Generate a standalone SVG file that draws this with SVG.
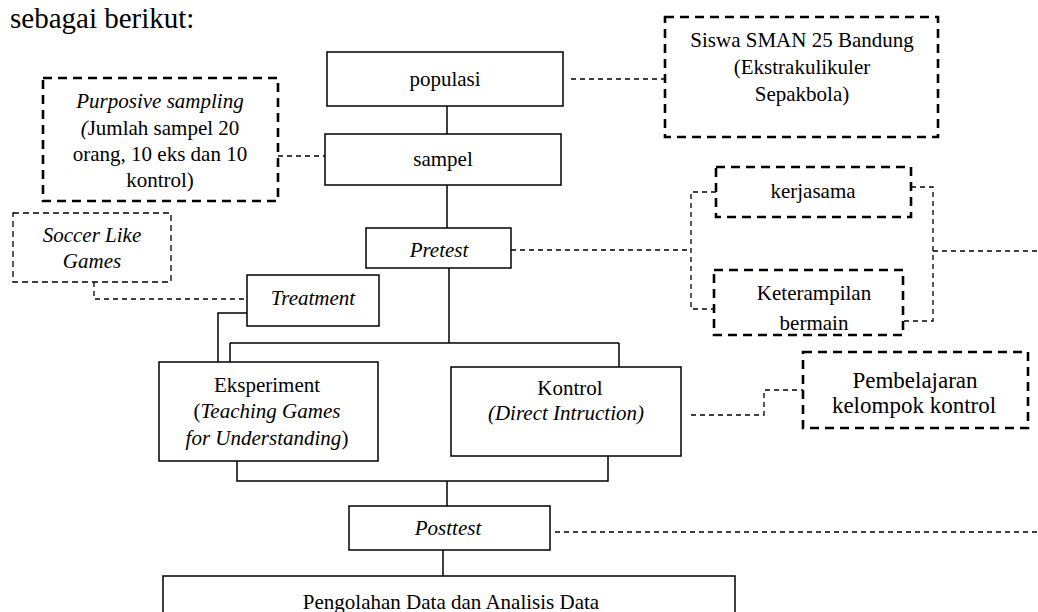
<svg xmlns="http://www.w3.org/2000/svg" width="1038" height="612" viewBox="0 0 1038 612" font-family="'Liberation Serif', 'Times New Roman', serif" font-size="21">
<style>
.box{fill:#fff;stroke:#000;stroke-width:1.5}
.dbox{fill:none;stroke:#000;stroke-width:2.6;stroke-dasharray:9 6}
.tbox{fill:none;stroke:#000;stroke-width:1.3;stroke-dasharray:6 4}
.conn{fill:none;stroke:#000;stroke-width:1.5}
.dconn{fill:none;stroke:#000;stroke-width:1.3;stroke-dasharray:5 4}
.c{text-anchor:middle}
.i{font-style:italic}
.s23{font-size:23px}
</style>
<rect x="0" y="0" width="1038" height="612" fill="#fff"/>
<text x="10" y="28" font-size="29">sebagai berikut:</text>

<g id="connectors">
<path class="conn" d="M447 106V134"/>
<path class="conn" d="M447 185V228"/>
<path class="conn" d="M449 268V343M230 343H619M230 343V362M619 343V367"/>
<path class="conn" d="M247 313H218V362"/>
<path class="conn" d="M237 461V481H608V456M447 481V506"/>
<path class="conn" d="M443 550V576"/>
<path class="dconn" d="M571 79H665"/>
<path class="dconn" d="M278 156H325"/>
<path class="dconn" d="M511 250H691"/>
<path class="dconn" d="M716 192H691V309H714"/>
<path class="dconn" d="M911 187H933V321H903"/>
<path class="dconn" d="M933 251H1038"/>
<path class="dconn" d="M94 282V299H247"/>
<path class="dconn" d="M691 415H764V390H803"/>
<path class="dconn" d="M555 532H1038"/>
</g>

<g id="populasi"><rect class="box" x="327" y="52" width="236" height="54"/><text class="c" x="445" y="86">populasi</text></g>
<g id="sampel"><rect class="box" x="325" y="134" width="236" height="51"/><text class="c" x="443" y="166">sampel</text></g>
<g id="siswa"><rect class="dbox" x="665" y="17" width="273" height="120"/>
<text class="c" x="802" y="47">Siswa SMAN 25 Bandung</text>
<text class="c" x="802" y="74">(Ekstrakulikuler</text>
<text class="c" x="802" y="101">Sepakbola)</text></g>
<g id="purposive"><rect class="dbox" x="43" y="78" width="235" height="123"/>
<text class="c" x="160" y="108"><tspan class="i">Purposive sampling</tspan></text>
<text class="c" x="160" y="135"><tspan class="i">(</tspan>Jumlah sampel 20</text>
<text class="c" x="160" y="161">orang, 10 eks dan 10</text>
<text class="c" x="160" y="187">kontrol)</text></g>
<g id="pretest"><rect class="box" x="366" y="228" width="145" height="40"/><text class="c i" x="439" y="257">Pretest</text></g>
<g id="kerjasama"><rect class="dbox" x="716" y="167" width="195" height="50"/><text class="c" x="813" y="198">kerjasama</text></g>
<g id="keterampilan"><text class="c" x="814" y="300">Keterampilan</text><text class="c" x="814" y="330">bermain</text><rect class="dbox" x="714" y="270" width="189" height="65"/></g>
<g id="soccer"><rect class="tbox" x="13" y="213" width="158" height="69"/>
<text class="c i" x="92" y="242">Soccer Like</text><text class="c i" x="92" y="268">Games</text></g>
<g id="treatment"><rect class="box" x="247" y="275" width="132" height="51"/><text class="c i" x="313" y="305">Treatment</text></g>
<g id="eksperiment"><rect class="box" x="159" y="362" width="219" height="99"/>
<text class="c" x="267" y="392">Eksperiment</text>
<text class="c" x="267" y="418">(<tspan class="i">Teaching Games</tspan></text>
<text class="c" x="267" y="445"><tspan class="i">for Understanding</tspan>)</text></g>
<g id="kontrol"><rect class="box" x="451" y="367" width="230" height="89"/>
<text class="c" x="570" y="395">Kontrol</text>
<text class="c i" x="566" y="420">(Direct Intruction)</text></g>
<g id="pembelajaran"><rect class="dbox" x="803" y="352" width="225" height="76"/>
<text class="c s23" x="915" y="388">Pembelajaran</text>
<text class="c s23" x="914" y="413">kelompok kontrol</text></g>
<g id="posttest"><rect class="box" x="349" y="506" width="201" height="44"/><text class="c i" x="448" y="535">Posttest</text></g>
<g id="pengolahan"><rect class="box" x="163" y="576" width="572" height="50"/><text class="c" x="451" y="609">Pengolahan Data dan Analisis Data</text></g>
</svg>
